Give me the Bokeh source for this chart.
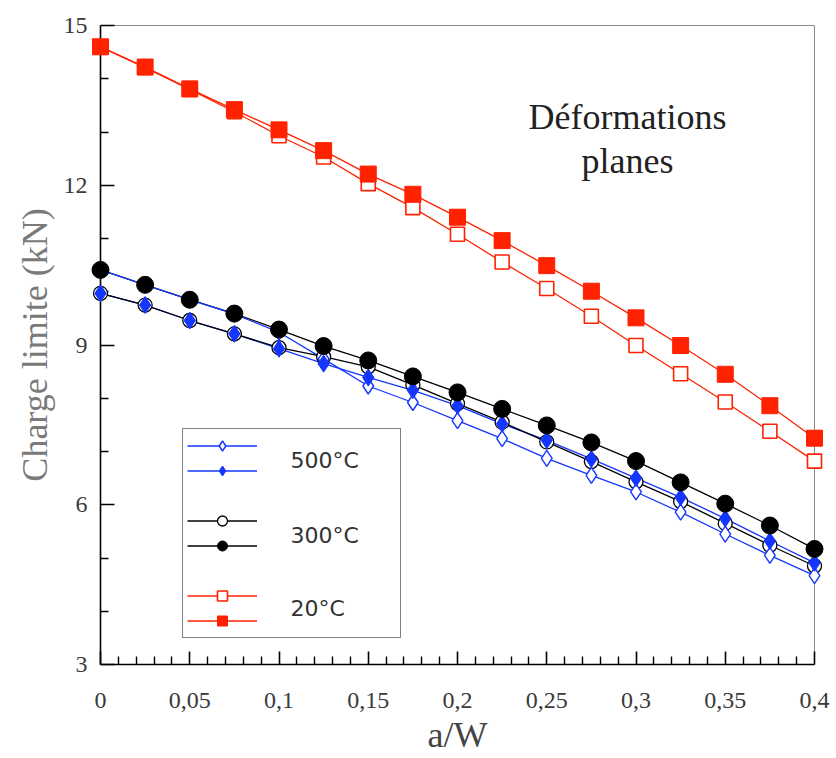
from bokeh.plotting import figure
from bokeh.models import FixedTicker, Legend, LegendItem, Label
from bokeh.embed import file_html
from bokeh.resources import INLINE

# ---- data ----
x_vals = [0.0, 0.025, 0.05, 0.075, 0.1, 0.125, 0.15, 0.175, 0.2,
          0.225, 0.25, 0.275, 0.3, 0.325, 0.35, 0.375, 0.4]

t500_open = [10.41, 10.13, 9.85, 9.58, 9.24, 8.74, 8.23, 7.92, 7.58,
             7.24, 6.87, 6.55, 6.24, 5.86, 5.45, 5.05, 4.67]
t500_filled = [9.97, 9.75, 9.46, 9.21, 8.93, 8.65, 8.39, 8.15, 7.86,
               7.52, 7.21, 6.86, 6.50, 6.14, 5.74, 5.32, 4.91]
t300_open = [9.97, 9.75, 9.46, 9.21, 8.95, 8.78, 8.59, 8.25, 7.90,
             7.55, 7.18, 6.81, 6.43, 6.06, 5.65, 5.24, 4.85]
t300_filled = [10.41, 10.13, 9.85, 9.59, 9.29, 8.98, 8.71, 8.41, 8.11,
               7.80, 7.49, 7.17, 6.82, 6.42, 6.02, 5.61, 5.17]
t20_open = [14.60, 14.21, 13.80, 13.38, 12.93, 12.53, 12.03, 11.58, 11.08,
            10.56, 10.06, 9.54, 8.99, 8.46, 7.93, 7.38, 6.82]
t20_filled = [14.60, 14.22, 13.81, 13.42, 13.04, 12.65, 12.21, 11.83, 11.40,
              10.96, 10.49, 10.01, 9.51, 8.99, 8.45, 7.86, 7.25]

series_labels = ["500°C", "300°C", "20°C"]
annotation_lines = ["Déformations", "planes"]
x_title = "a/W"
y_title = "Charge limite (kN)"

x_ticks = [0, 0.05, 0.1, 0.15, 0.2, 0.25, 0.3, 0.35, 0.4]
x_tick_labels = ["0", "0,05", "0,1", "0,15", "0,2", "0,25", "0,3", "0,35", "0,4"]
x_minor_ticks = [round(i * 0.01, 2) for i in range(41) if i % 5]
y_ticks = [3, 6, 9, 12, 15]
y_tick_labels = ["3", "6", "9", "12", "15"]
y_minor_ticks = [4, 5, 7, 8, 10, 11, 13, 14]

# ---- styling ----
RED = "#ff2200"
BLUE = "#1436ff"
BLACK = "#000000"
SERIF = "Liberation Serif"

p = figure(width=836, height=758, x_range=(0, 0.4), y_range=(3, 15),
           output_backend="svg", toolbar_location=None,
           min_border_left=100, min_border_right=22,
           min_border_top=25, min_border_bottom=94)
p.grid.visible = False
p.background_fill_color = "white"
p.border_fill_color = "white"
p.outline_line_color = "#8a8a8a"
p.outline_line_width = 1

p.xaxis.ticker = FixedTicker(ticks=x_ticks, minor_ticks=x_minor_ticks)
p.yaxis.ticker = FixedTicker(ticks=y_ticks, minor_ticks=y_minor_ticks)
p.xaxis.major_label_overrides = dict(zip(x_ticks, x_tick_labels))
p.yaxis.major_label_overrides = dict(zip(y_ticks, y_tick_labels))

for ax in (p.xaxis[0], p.yaxis[0]):
    ax.axis_line_color = BLACK
    ax.axis_line_width = 1.6
    ax.major_tick_line_color = BLACK
    ax.major_tick_line_width = 1.6
    ax.minor_tick_line_color = BLACK
    ax.minor_tick_line_width = 1.4
    ax.major_tick_out = 0
    ax.minor_tick_out = 0
    ax.major_label_text_font = SERIF
    ax.major_label_text_font_size = "24px"
    ax.major_label_text_color = "#3a3a3a"
    ax.axis_label_text_font = SERIF
    ax.axis_label_text_font_size = "36px"
    ax.axis_label_text_font_style = "normal"

p.xaxis.major_tick_in = 13
p.xaxis.minor_tick_in = 8
p.yaxis.major_tick_in = 14
p.yaxis.minor_tick_in = 8
p.xaxis.major_label_standoff = 28
p.yaxis.major_label_standoff = 13
p.xaxis.axis_label = x_title
p.yaxis.axis_label = y_title
p.xaxis.axis_label_standoff = 4
p.yaxis.axis_label_standoff = 6
p.xaxis.axis_label_text_color = "#444444"
p.yaxis.axis_label_text_color = "#7a7a7a"

LW = 1.3

# lines
l20o = p.line(x_vals, t20_open, line_color=RED, line_width=LW)
l20f = p.line(x_vals, t20_filled, line_color=RED, line_width=LW)
l300f = p.line(x_vals, t300_filled, line_color=BLACK, line_width=LW)
l500o = p.line(x_vals, t500_open, line_color=BLUE, line_width=LW)
l500f = p.line(x_vals, t500_filled, line_color=BLUE, line_width=LW)
l300o = p.line(x_vals, t300_open, line_color=BLACK, line_width=LW)

# markers
s20o = p.scatter(x_vals, t20_open, marker="square", size=14, fill_color="white",
                 line_color=RED, line_width=1.6, level="overlay")
s20f = p.scatter(x_vals, t20_filled, marker="square", size=16, fill_color=RED,
                 line_color=RED, level="overlay")
s300o = p.scatter(x_vals, t300_open, marker="circle", size=14, fill_color="white",
                  line_color=BLACK, line_width=1.3, level="overlay")
s500o = p.scatter(x_vals, t500_open, marker="diamond", size=16, fill_color="white",
                  line_color=BLUE, line_width=1.4, level="overlay")
s500f = p.scatter(x_vals, t500_filled, marker="diamond", size=17, fill_color=BLUE,
                  line_color=BLUE, level="overlay")
s300f = p.scatter(x_vals, t300_filled, marker="circle", size=17, fill_color=BLACK,
                  line_color=BLACK, level="overlay")

# invisible spacers for the legend gaps
sp1 = p.scatter([], [], fill_alpha=0, line_alpha=0)
sp2 = p.scatter([], [], fill_alpha=0, line_alpha=0)

legend = Legend(items=[
    LegendItem(label=" ", renderers=[l500o, s500o]),
    LegendItem(label=" ", renderers=[l500f, s500f]),
    LegendItem(label=" ", renderers=[sp1]),
    LegendItem(label=" ", renderers=[l300o, s300o]),
    LegendItem(label=" ", renderers=[l300f, s300f]),
    LegendItem(label=" ", renderers=[sp2]),
    LegendItem(label=" ", renderers=[l20o, s20o]),
    LegendItem(label=" ", renderers=[l20f, s20f]),
], location=(82, 26))
legend.margin = 0
legend.padding = 4
legend.spacing = 0
legend.glyph_width = 70
legend.glyph_height = 25
legend.label_height = 25
legend.label_width = 129
legend.label_standoff = 10
legend.label_text_font_size = "12px"
legend.border_line_color = BLACK
legend.border_line_width = 1.6
legend.background_fill_alpha = 0
p.add_layout(legend, "center")

# legend texts, each centred between its two rows
for txt, ypos in zip(series_labels, [204, 129, 56]):
    p.add_layout(Label(x=190, y=ypos, x_units="screen", y_units="screen",
                       text=txt, text_align="left", text_baseline="middle",
                       text_font="DejaVu Sans", text_font_size="22px",
                       text_color="#333333"))

p.add_layout(Label(x=527, y=548, x_units="screen", y_units="screen",
                   text=annotation_lines[0], text_align="center",
                   text_baseline="alphabetic", text_font=SERIF,
                   text_font_size="36px", text_color="#222222"))
p.add_layout(Label(x=527, y=504, x_units="screen", y_units="screen",
                   text=annotation_lines[1], text_align="center",
                   text_baseline="alphabetic", text_font=SERIF,
                   text_font_size="36px", text_color="#222222"))

open("out.html", "w").write(file_html(p, INLINE))
